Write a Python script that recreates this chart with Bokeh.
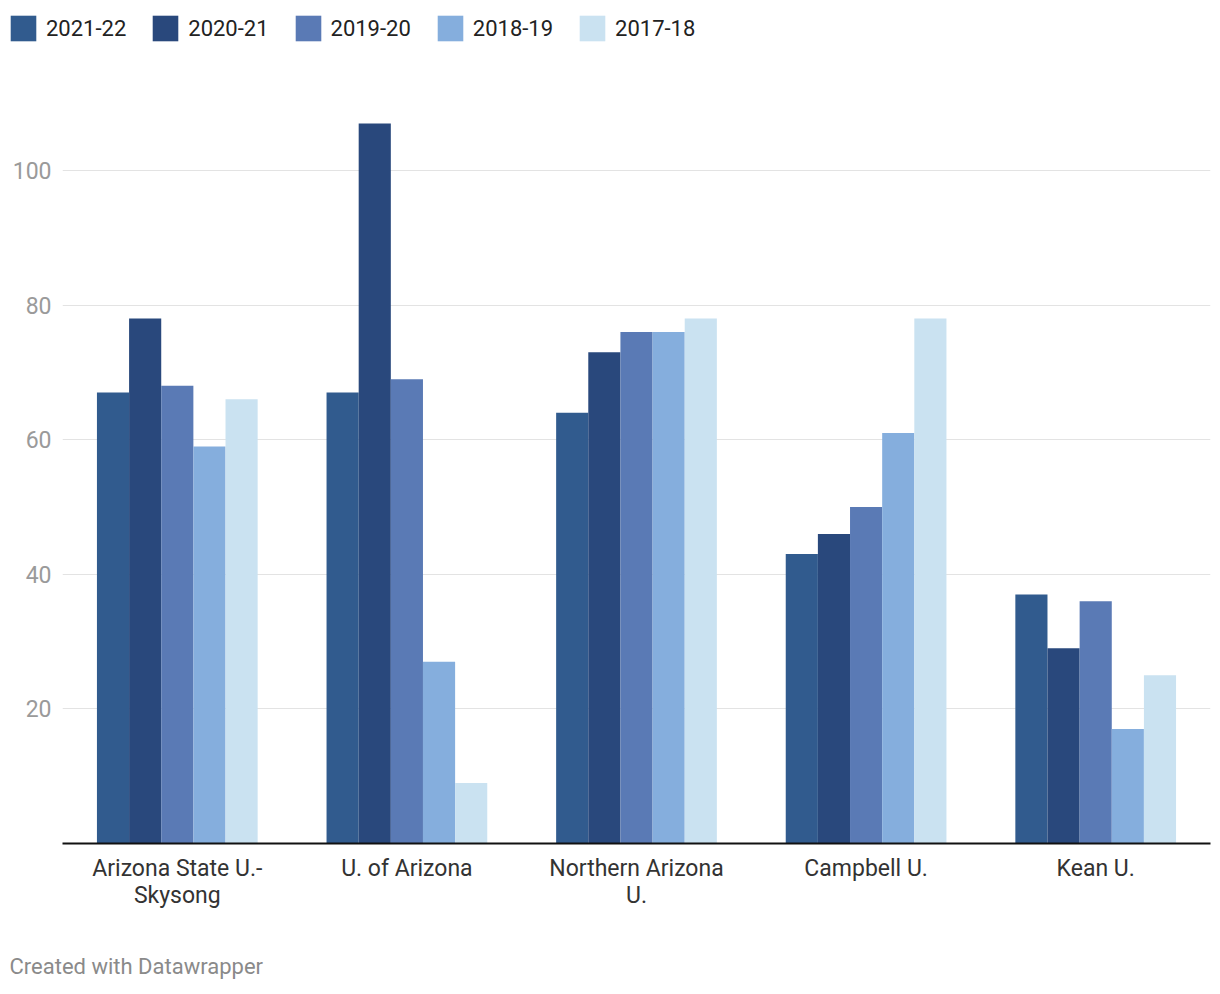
from bokeh.plotting import figure
from bokeh.layouts import column
from bokeh.models import (Range1d, FixedTicker, Legend, LegendItem, Title,
                          ColumnDataSource, LinearAxis)
from bokeh.transform import dodge
from bokeh.embed import file_html
from bokeh.resources import INLINE

categories = ["Arizona State U.-Skysong", "U. of Arizona", "Northern Arizona U.", "Campbell U.", "Kean U."]
label_line1 = ["Arizona State U.-", "U. of Arizona", "Northern Arizona", "Campbell U.", "Kean U."]
label_line2 = ["Skysong", " ", "U.", " ", " "]
years = ["2021-22", "2020-21", "2019-20", "2018-19", "2017-18"]
v_2021_22 = [67, 67, 64, 43, 37]
v_2020_21 = [78, 107, 73, 46, 29]
v_2019_20 = [68, 69, 76, 50, 36]
v_2018_19 = [59, 27, 76, 61, 17]
v_2017_18 = [66, 9, 78, 78, 25]
y_ticks = [20, 40, 60, 80, 100]

series = [v_2021_22, v_2020_21, v_2019_20, v_2018_19, v_2017_18]
colors = ["#315b8e", "#29487c", "#5a7ab5", "#85aedd", "#cae2f1"]

FONT = "Roboto"
idx = list(range(len(categories)))

data = {"idx": idx, "cat": categories}
for y, s in zip(years, series):
    data[y] = s
src = ColumnDataSource(data)
w = 0.14
offsets = [-2 * w, -w, 0, w, 2 * w]

# ---------- legend strip ----------
lg = figure(width=1212, height=50, output_backend="svg", toolbar_location=None,
            x_axis_type=None, y_axis_type=None, x_range=Range1d(0, 1), y_range=Range1d(0, 1),
            min_border=0, min_border_left=0, min_border_right=0, min_border_top=0,
            min_border_bottom=0)
lg.frame_align = False
lg.outline_line_color = None
lg.grid.grid_line_color = None
items = []
for y, c in zip(years, colors):
    r = lg.vbar(x="idx", top=y, width=w, source=src, fill_color=c, line_color=None,
                visible=False)
    items.append(LegendItem(label=y, renderers=[r]))
legend = Legend(items=items, orientation="horizontal", location=(7, 6),
                glyph_width=32, glyph_height=32, label_text_font=FONT,
                label_text_font_size="22px", label_text_color="#222222",
                label_standoff=7, spacing=23, margin=0, padding=0,
                border_line_color=None, background_fill_alpha=0, label_height=32)
lg.add_layout(legend, "center")

# ---------- main chart ----------
p = figure(frame_width=1148, frame_height=743, output_backend="svg", toolbar_location=None,
           x_range=Range1d(-0.5, len(categories) - 0.5),
           y_range=Range1d(0, 110.4),
           min_border_left=62, min_border_right=2, min_border_top=50, min_border_bottom=148)
p.frame_align = False
p.outline_line_color = None
p.background_fill_color = "white"

for y, c, off in zip(years, colors, offsets):
    p.vbar(x=dodge("idx", off), top=y, width=w, bottom=0,
           source=src, fill_color=c, line_color=None)

p.xgrid.grid_line_color = None
p.ygrid.grid_line_color = "#e3e3e3"
p.ygrid.grid_line_width = 1
p.ygrid.ticker = FixedTicker(ticks=y_ticks)

p.yaxis.ticker = FixedTicker(ticks=y_ticks)
p.yaxis.axis_line_color = None
p.yaxis.major_tick_line_color = None
p.yaxis.minor_tick_line_color = None
p.yaxis.major_label_text_font = FONT
p.yaxis.major_label_text_font_size = "23px"
p.yaxis.major_label_text_color = "#9a9a9a"
p.yaxis.major_label_standoff = 5

xa = p.xaxis[0]
xa.ticker = FixedTicker(ticks=idx)
xa.axis_line_color = "#111111"
xa.axis_line_width = 2
xa.major_tick_line_color = None
xa.minor_tick_line_color = None
xa.major_label_text_font = FONT
xa.major_label_text_font_size = "23px"
xa.major_label_text_color = "#333333"
xa.major_label_standoff = 5
xa.major_label_overrides = dict(zip(idx, label_line1))

xa2 = LinearAxis(ticker=FixedTicker(ticks=idx), axis_line_color=None, major_tick_line_color=None,
                 minor_tick_line_color=None, major_label_text_font=FONT,
                 major_label_text_font_size="23px", major_label_text_color="#333333",
                 major_label_standoff=-9,
                 major_label_overrides=dict(zip(idx, label_line2)))
p.add_layout(xa2, "below")

footer = Title(text="Created with Datawrapper", align="left", text_font=FONT,
               text_font_size="22px", text_font_style="normal", text_color="#8a8a8a",
               offset=-53, standoff=81)
p.add_layout(footer, "below")

layout = column(lg, p, spacing=0)
open("out.html", "w").write(file_html(layout, INLINE))
